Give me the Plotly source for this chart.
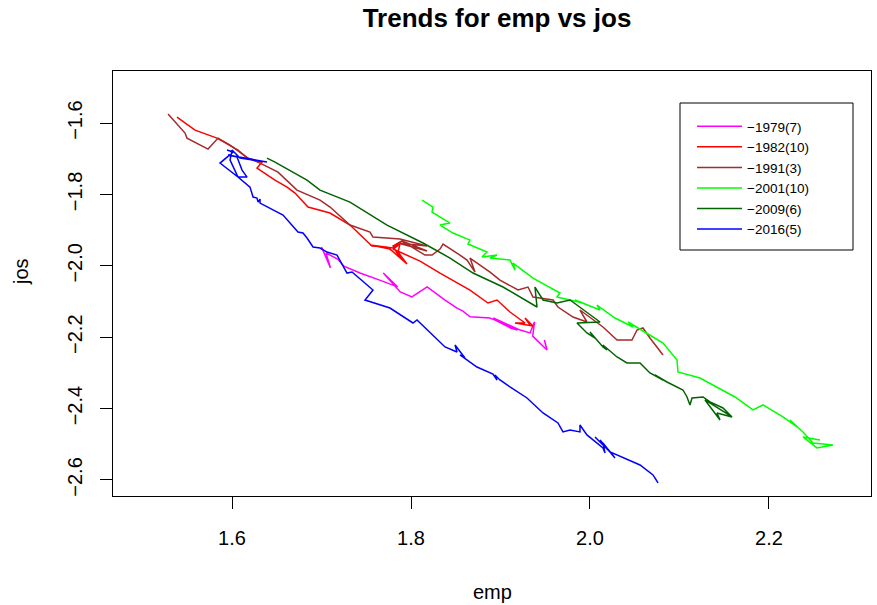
import plotly.graph_objects as go

# ---------------- data ----------------
labels = ["\u22121979(7)", "\u22121982(10)", "\u22121991(3)", "\u22122001(10)", "\u22122009(6)", "\u22122016(5)"]
colors = ["#FF00FF", "#FF0000", "#A52A2A", "#00FF00", "#006400", "#0000FF"]

emp_1979 = [1.700, 1.710, 1.705, 1.718, 1.725, 1.743, 1.765, 1.785, 1.769, 1.788, 1.801, 1.818, 1.838, 1.851,
            1.858, 1.866, 1.888, 1.894, 1.911, 1.919, 1.892, 1.922, 1.933, 1.938, 1.936, 1.952, 1.949, 1.951]
jos_1979 = [-1.947, -2.006, -1.964, -1.981, -2.001, -2.020, -2.040, -2.059, -2.020, -2.073, -2.087, -2.059, -2.096, -2.118,
            -2.127, -2.143, -2.146, -2.152, -2.174, -2.180, -2.146, -2.180, -2.188, -2.157, -2.197, -2.236, -2.208, -2.227]

emp_1982 = [1.5385, 1.5587, 1.5832, 1.6067, 1.6168, 1.6335, 1.6279, 1.6480, 1.6615, 1.6704, 1.6849, 1.7095, 1.7318,
            1.7430, 1.7564, 1.7732, 1.7776, 1.7933, 1.7844, 1.7799, 1.7911, 1.7799, 1.7542, 1.7765, 1.7955, 1.7855,
            1.7877, 1.7799, 1.8101, 1.8324, 1.8659, 1.8860, 1.8961, 1.9106, 1.9274, 1.9162, 1.9363, 1.9274, 1.9330]
jos_1982 = [-1.5832, -1.6196, -1.6420, -1.6756, -1.6980, -1.7092, -1.7261, -1.7597, -1.7793, -1.7961, -1.8353, -1.8521,
            -1.8857, -1.9137, -1.9445, -1.9473, -1.9557, -1.9894, -1.9641, -1.9445, -1.9277, -1.9501, -1.9417, -1.9529,
            -1.9950, -1.9613, -1.9389, -1.9529, -1.9866, -2.0202, -2.0678, -2.1042, -2.0958, -2.1294, -2.1602, -2.1602,
            -2.1686, -2.1462, -2.1658]

emp_1991 = [1.5285, 1.5475, 1.5497, 1.5609, 1.5732, 1.5844, 1.5978, 1.6179, 1.6313, 1.6514, 1.6726, 1.6983, 1.7095,
            1.7318, 1.7542, 1.7575, 1.7877, 1.8179, 1.7855, 1.8179, 1.7899, 1.8156, 1.8235, 1.8324, 1.8358, 1.8547,
            1.8626, 1.8715, 1.8659, 1.8883, 1.8994, 1.9196, 1.9307, 1.9363, 1.9587, 1.9642, 1.9810, 1.9966, 1.9888,
            2.0145, 2.0302, 2.0469, 2.0525, 2.0592, 2.0670, 2.0816]
jos_1991 = [-1.5748, -1.6280, -1.6420, -1.6560, -1.6728, -1.6420, -1.6616, -1.6980, -1.7120, -1.7373, -1.7877, -1.8157,
            -1.8353, -1.8857, -1.9053, -1.9193, -1.9249, -1.9445, -1.9361, -1.9585, -1.9305, -1.9697, -1.9697, -1.9529,
            -1.9389, -1.9697, -1.9838, -2.0174, -1.9781, -2.0174, -2.0398, -2.0678, -2.0594, -2.0874, -2.0958, -2.1154,
            -2.1434, -2.1574, -2.1238, -2.1714, -2.2078, -2.2078, -2.1798, -2.1742, -2.2022, -2.2498]

emp_2001 = [1.8123, 1.8246, 1.8235, 1.8436, 1.8324, 1.8469, 1.8659, 1.8637, 1.8849, 1.8793, 1.8961, 1.8883, 1.9106,
            1.9162, 1.9140, 1.9363, 1.9665, 1.9631, 1.9922, 1.9832, 2.0112, 2.0078, 2.0279, 2.0480, 2.0425, 2.0704,
            2.0816, 2.0972, 2.0983, 2.1229, 2.1419, 2.1620, 2.1821, 2.1933, 2.2156, 2.2313, 2.2235, 2.2380, 2.2492,
            2.2715, 2.2536, 2.2380, 2.2570]
jos_2001 = [-1.8157, -1.8353, -1.8493, -1.8801, -1.8857, -1.9081, -1.9277, -1.9389, -1.9613, -1.9753, -1.9697, -1.9781,
            -1.9838, -2.0118, -1.9922, -2.0342, -2.0762, -2.0874, -2.1042, -2.0958, -2.1238, -2.1098, -2.1462, -2.1714,
            -2.1574, -2.1994, -2.2162, -2.2638, -2.2975, -2.3143, -2.3395, -2.3675, -2.4039, -2.3899, -2.4235, -2.4515,
            -2.4319, -2.4655, -2.4963, -2.5019, -2.5103, -2.4795, -2.4879]

emp_2009 = [1.6391, 1.6480, 1.6838, 1.6983, 1.7318, 1.7732, 1.8134, 1.8436, 1.8693, 1.9028, 1.9408, 1.9385, 1.9475,
            1.9631, 1.9777, 2.0034, 2.0112, 1.9855, 1.9966, 2.0056, 2.0000, 2.0145, 2.0190, 2.0145, 2.0302, 2.0413,
            2.0559, 2.0670, 2.0816, 2.0726, 2.0860, 2.1039, 2.1084, 2.1117, 2.1140, 2.1263, 2.1341, 2.1486, 2.1587,
            2.1419, 2.1453, 2.1285, 2.1587]
jos_2009 = [-1.6980, -1.7092, -1.7597, -1.7877, -1.8213, -1.8857, -1.9361, -1.9781, -2.0202, -2.0594, -2.1154, -2.0594,
            -2.0958, -2.1042, -2.0958, -2.1434, -2.1574, -2.1602, -2.1882, -2.2022, -2.1854, -2.2274, -2.2358, -2.2218,
            -2.2554, -2.2723, -2.2723, -2.3003, -2.3199, -2.3059, -2.3255, -2.3479, -2.3675, -2.3899, -2.3703, -2.3675,
            -2.3815, -2.3983, -2.4235, -2.4123, -2.4319, -2.3759, -2.4235]

emp_2016 = [1.5944, 1.6011, 1.5866, 1.6067, 1.6168, 1.6112, 1.6056, 1.5955, 1.6391, 1.6089, 1.6000, 1.5978, 1.6067,
            1.6201, 1.6235, 1.6279, 1.6291, 1.6313, 1.6313, 1.6425, 1.6570, 1.6737, 1.6793, 1.6838, 1.6905, 1.6983,
            1.7061, 1.7173, 1.7285, 1.7341, 1.7575, 1.7486, 1.7765, 1.8022, 1.8067, 1.8380, 1.8514, 1.8492, 1.8603,
            1.8547, 1.8737, 1.8916, 1.8961, 1.8938, 1.8994, 1.9106, 1.9251, 1.9296, 1.9475, 1.9642, 1.9698, 1.9777,
            1.9888, 1.9888, 1.9966, 2.0145, 2.0168, 2.0145, 2.0279, 2.0112, 2.0257, 2.0056, 2.0224, 2.0559, 2.0704,
            2.0760, 2.0726]
jos_2016 = [-1.6756, -1.6812, -1.7120, -1.7513, -1.7513, -1.7317, -1.6952, -1.6896, -1.7092, -1.6980, -1.6756, -1.7036,
            -1.7513, -1.7793, -1.8073, -1.8101, -1.8213, -1.8129, -1.8241, -1.8381, -1.8577, -1.9053, -1.9081, -1.9221,
            -1.9473, -1.9501, -1.9613, -1.9697, -2.0202, -2.0174, -2.0678, -2.0958, -2.1182, -2.1602, -2.1518, -2.2274,
            -2.2414, -2.2218, -2.2582, -2.2498, -2.2835, -2.3031, -2.3199, -2.3059, -2.3199, -2.3395, -2.3619, -2.3703,
            -2.4123, -2.4403, -2.4655, -2.4599, -2.4655, -2.4459, -2.4739, -2.5103, -2.5243, -2.4963, -2.5383, -2.4879,
            -2.5299, -2.4795, -2.5215, -2.5580, -2.5860, -2.6084, -2.5944]

series_x = [emp_1979, emp_1982, emp_1991, emp_2001, emp_2009, emp_2016]
series_y = [jos_1979, jos_1982, jos_1991, jos_2001, jos_2009, jos_2016]

x_ticks = [1.6, 1.8, 2.0, 2.2]
y_ticks = [-2.6, -2.4, -2.2, -2.0, -1.8, -1.6]

FONT = "Liberation Sans, Arial, Helvetica, sans-serif"

fig = go.Figure()
for xs, ys, name, col in zip(series_x, series_y, labels, colors):
    fig.add_trace(go.Scatter(x=xs, y=ys, mode="lines", name=name,
                             line=dict(color=col, width=1.5)))

axis_common = dict(showgrid=False, zeroline=False, showline=True, mirror=True,
                   linecolor="black", linewidth=1, ticks="outside", ticklen=12,
                   tickwidth=1, tickcolor="black",
                   tickfont=dict(family=FONT, size=20, color="black"))

fig.update_layout(
    width=877, height=605,
    margin=dict(l=113, r=6, t=71, b=109),
    paper_bgcolor="white", plot_bgcolor="white",
    font=dict(family=FONT, color="black"),
    title=dict(text="<b>Trends for emp vs jos</b>", x=(497 - 113) / 758, xanchor="center",
               y=1 - 18 / 605, yanchor="middle", xref="paper",
               font=dict(family=FONT, size=26, color="black")),
    xaxis=dict(range=[1.467, 2.314], tickvals=x_ticks, ticktext=[f"{v:.1f}" for v in x_ticks],
               ticklabelstandoff=12, **axis_common),
    yaxis=dict(range=[-2.645, -1.454], tickvals=y_ticks,
               ticktext=[f"\u2212{abs(v):.1f}" for v in y_ticks],
               tickangle=-90, ticklabelstandoff=10, **axis_common),
    showlegend=True,
    legend=dict(x=(692 - 113) / 758, y=(496 - 111) / 425, xanchor="left", yanchor="top",
                bgcolor="rgba(0,0,0,0)", borderwidth=0,
                font=dict(family=FONT, size=13.5, color="black"),
                itemwidth=45, tracegroupgap=0),
    shapes=[dict(type="rect", xref="paper", yref="paper",
                 x0=(680 - 113) / 758, x1=(853 - 113) / 758,
                 y0=(496 - 250) / 425, y1=(496 - 103) / 425,
                 line=dict(color="black", width=1), fillcolor="white", layer="below")],
    annotations=[
        dict(text="emp", xref="paper", yref="paper", x=0.5, y=-(592 - 496) / 425,
             xanchor="center", yanchor="middle", showarrow=False,
             font=dict(family=FONT, size=20, color="black")),
        dict(text="jos", xref="paper", yref="paper", x=-(113 - 21) / 758, y=(496 - 272) / 425,
             xanchor="center", yanchor="middle", showarrow=False, textangle=-90,
             font=dict(family=FONT, size=20, color="black")),
    ],
)

fig.write_html("out.html")
